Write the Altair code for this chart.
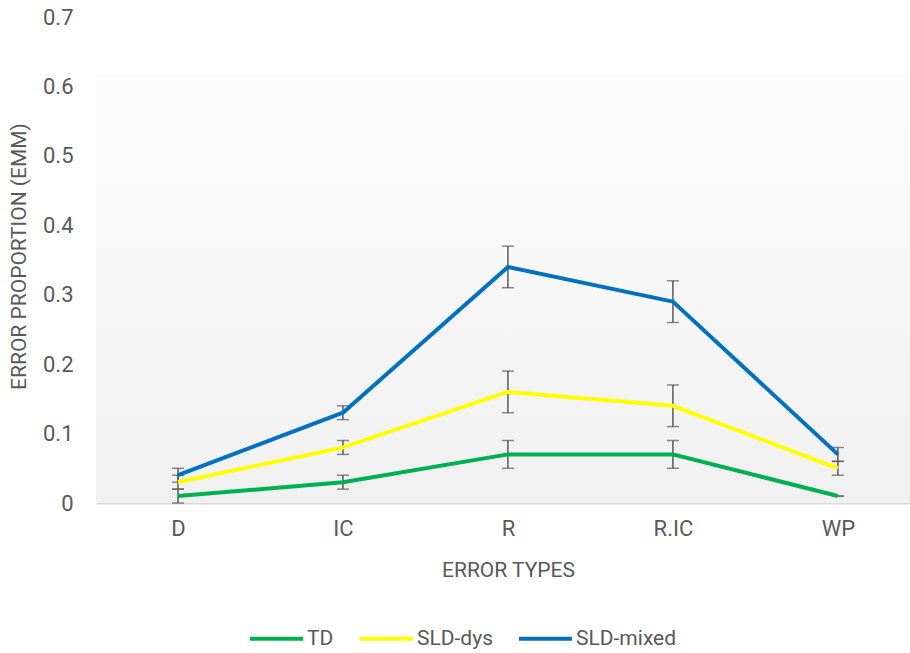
import altair as alt
import pandas as pd

# Error types on the x axis
categories = ["D", "IC", "R", "R.IC", "WP"]

# Estimated marginal means and their error margins per group
groups = ["TD", "SLD-dys", "SLD-mixed"]
td_mean = [0.01, 0.03, 0.07, 0.07, 0.01]
td_err = [0.01, 0.01, 0.02, 0.02, 0.0]
dys_mean = [0.03, 0.08, 0.16, 0.14, 0.05]
dys_err = [0.01, 0.01, 0.03, 0.03, 0.01]
mixed_mean = [0.04, 0.13, 0.34, 0.29, 0.07]
mixed_err = [0.01, 0.01, 0.03, 0.03, 0.01]

colors = ["#00B050", "#FFFF00", "#0070C0"]
y_ticks = [0, 0.1, 0.2, 0.3, 0.4, 0.5, 0.6, 0.7]

rows = []
for g, means, errs in zip(groups, [td_mean, dys_mean, mixed_mean], [td_err, dys_err, mixed_err]):
    for c, m, e in zip(categories, means, errs):
        rows.append({"type": c, "group": g, "emm": m, "lo": m - e, "hi": m + e})
df = pd.DataFrame(rows)

FONT = "Roboto"
GREY = "#595959"

x_enc = alt.X(
    "type:N",
    sort=categories,
    scale=alt.Scale(type="point", domain=categories, padding=0.467, align=0.532),
    axis=alt.Axis(
        title="ERROR TYPES",
        labelAngle=0,
        ticks=False,
        domainColor="#d9d9d9",
        domainWidth=2,
        labelPadding=15,
        labelFontSize=22,
        labelColor=GREY,
        titleFontSize=21,
        titleFontWeight="normal",
        titleColor=GREY,
        titleX=412,
        titleY=67,
        titleBaseline="middle",
    ),
)

y_scale = alt.Scale(domain=[0, 0.7], nice=False)

y_axis = alt.Axis(
    title="ERROR PROPORTION (EMM)",
    values=y_ticks,
    format="~g",
    grid=False,
    domain=False,
    ticks=False,
    labelPadding=23,
    labelFontSize=22,
    labelColor=GREY,
    titleFontSize=21,
    titleFontWeight="normal",
    titleColor=GREY,
    titleX=-77,
    titleY=239,
    titleAngle=270,
    titleAlign="center",
    titleBaseline="middle",
)

# Plot-area backdrop: white band at the top, then a soft grey gradient
backdrop = alt.Chart(pd.DataFrame({"k": [0]})).mark_rect(
    color=alt.LinearGradient(
        gradient="linear",
        x1=0, x2=0, y1=0, y2=1,
        stops=[
            alt.GradientStop(color="#ffffff", offset=0),
            alt.GradientStop(color="#ffffff", offset=0.114),
            alt.GradientStop(color="#fdfdfd", offset=0.116),
            alt.GradientStop(color="#f0f0f0", offset=1),
        ],
    )
).encode(
    x=alt.value(0), x2=alt.value(814), y=alt.value(0), y2=alt.value(486)
)

base = alt.Chart(df)

err_rule = base.mark_rule(color=GREY, strokeWidth=1.5).encode(
    x=x_enc,
    y=alt.Y("lo:Q", scale=y_scale, axis=y_axis),
    y2="hi:Q",
)
cap_lo = base.mark_tick(color=GREY, thickness=1.5, size=12).encode(
    x=x_enc, y=alt.Y("lo:Q", scale=y_scale)
)
cap_hi = base.mark_tick(color=GREY, thickness=1.5, size=12).encode(
    x=x_enc, y=alt.Y("hi:Q", scale=y_scale)
)

lines = base.mark_line(strokeWidth=4, strokeJoin="round").encode(
    x=x_enc,
    y=alt.Y("emm:Q", scale=y_scale),
    color=alt.Color(
        "group:N",
        scale=alt.Scale(domain=groups, range=colors),
        legend=alt.Legend(
            title=None,
            orient="none",
            direction="horizontal",
            legendX=152,
            legendY=593,
            symbolType="stroke",
            symbolSize=2809,
            symbolStrokeWidth=4,
            labelFontSize=21,
            labelColor=GREY,
            labelOffset=2,
            columnPadding=18,
        ),
    ),
    order=alt.Order("type_order:Q"),
).transform_calculate(
    type_order="indexof(['D','IC','R','R.IC','WP'], datum.type)"
)

chart = (
    alt.layer(backdrop, err_rule, cap_lo, cap_hi, lines)
    .properties(
        width=814,
        height=486,
        autosize=alt.AutoSizeParams(type="none"),
        padding={"left": 96, "top": 17, "right": 0, "bottom": 150},
        background="white",
    )
    .configure(font=FONT)
    .configure_view(strokeWidth=0)
)

chart.save("out.html", embed_options={"renderer": "svg", "actions": False})
